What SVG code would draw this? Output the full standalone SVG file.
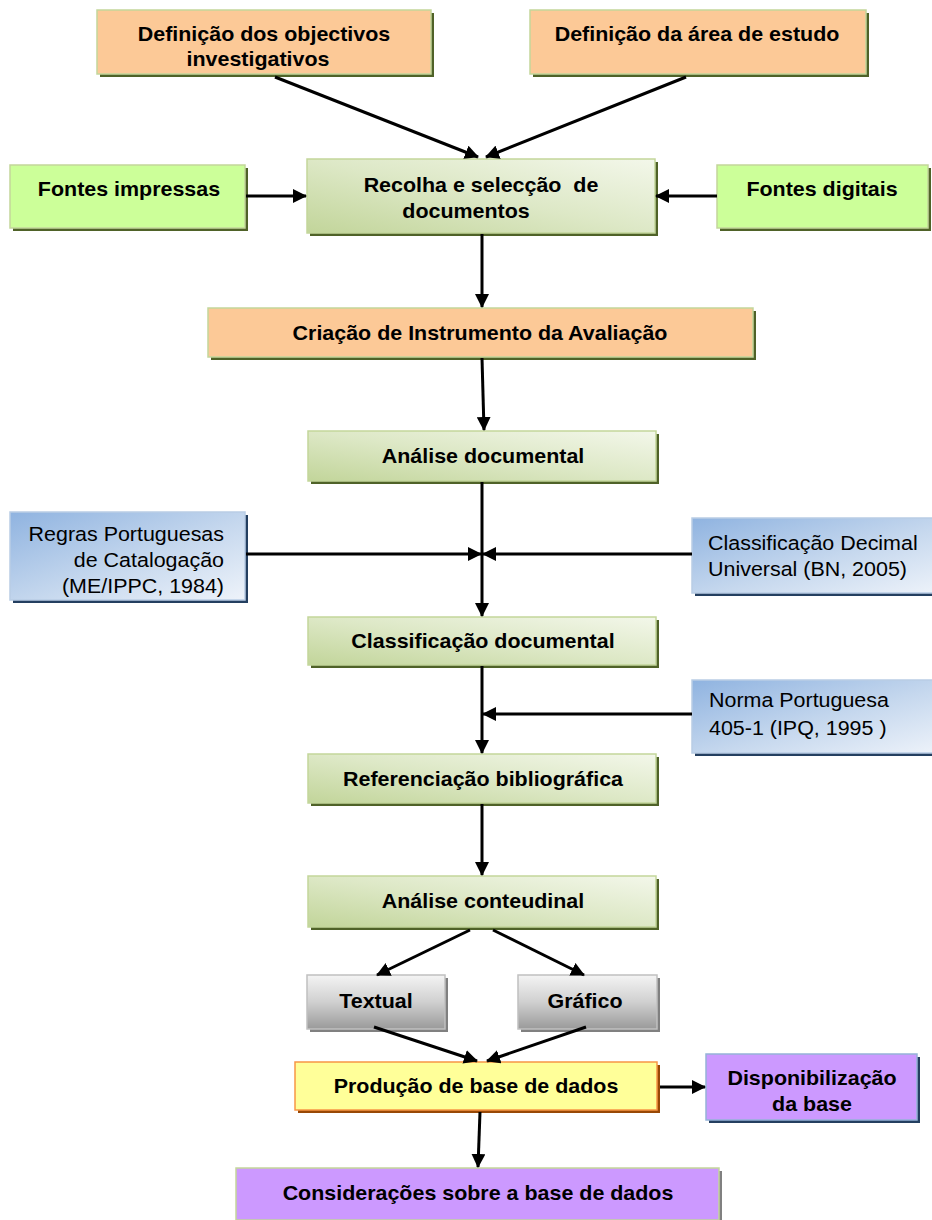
<svg xmlns="http://www.w3.org/2000/svg" width="932" height="1220" viewBox="0 0 932 1220">
<defs>
<linearGradient id="gGreen" x1="0" y1="1" x2="1" y2="0">
<stop offset="0" stop-color="#c2d59a"/><stop offset="0.5" stop-color="#dde8c6"/><stop offset="1" stop-color="#f3f7ea"/>
</linearGradient>
<linearGradient id="gBlue" x1="0" y1="0" x2="1" y2="1">
<stop offset="0" stop-color="#8fb3e0"/><stop offset="0.55" stop-color="#c6d8ee"/><stop offset="1" stop-color="#eef3fa"/>
</linearGradient>
<linearGradient id="gGray" x1="0" y1="0" x2="0" y2="1">
<stop offset="0" stop-color="#f4f4f4"/><stop offset="0.5" stop-color="#d0d0d0"/><stop offset="1" stop-color="#9a9a9a"/>
</linearGradient>
<marker id="ah" markerUnits="userSpaceOnUse" markerWidth="14" markerHeight="14" refX="13" refY="7" orient="auto">
<path d="M0,0 L14,7 L0,14 z" fill="#000"/>
</marker>
</defs>
<style>
.b{font-family:"Liberation Sans",Arial,sans-serif;font-weight:bold;font-size:19.5px;text-anchor:middle;fill:#000;white-space:pre}
.r{font-family:"Liberation Sans",Arial,sans-serif;font-size:19.5px;fill:#000}
.sh-olive{fill:#4f6228}
.sh-blue{fill:#243f60}
.sh-gray{fill:#808080}
.sh-brown{fill:#984806}
.peach{fill:#fcc997;stroke:#c3d69b;stroke-width:1.5}
.lime{fill:#ccff99;stroke:#c3d69b;stroke-width:1.5}
.green{fill:url(#gGreen);stroke:#c3d69b;stroke-width:1.5}
.blue{fill:url(#gBlue);stroke:#b9cde5;stroke-width:1.5}
.gray{fill:url(#gGray);stroke:#c0c0c0;stroke-width:1.5}
.yellow{fill:#ffff99;stroke:#f79646;stroke-width:1.5}
.purple{fill:#cc99ff;stroke:#95b3d7;stroke-width:1.5}
.purple2{fill:#cc99ff;stroke:#c3d69b;stroke-width:1.5}
.c line{stroke:#000;stroke-width:3;marker-end:url(#ah)}
</style>

<g id="n-objectivos">
<rect class="sh-olive" x="100" y="13" width="334" height="64"/>
<rect class="peach" x="97" y="10" width="334" height="64"/>
<text class="b" transform="translate(264 41) scale(1.1 1)">Definição dos objectivos</text>
<text class="b" transform="translate(258 66) scale(1.1 1)">investigativos</text>
</g>
<g id="n-area">
<rect class="sh-olive" x="533" y="13" width="336" height="64"/>
<rect class="peach" x="530" y="10" width="336" height="64"/>
<text class="b" transform="translate(697 41) scale(1.1 1)">Definição da área de estudo</text>
</g>
<g id="n-impressas">
<rect class="sh-olive" x="13" y="168" width="235" height="63"/>
<rect class="lime" x="10" y="165" width="235" height="63"/>
<text class="b" transform="translate(129 196) scale(1.1 1)">Fontes impressas</text>
</g>
<g id="n-recolha">
<rect class="sh-olive" x="310" y="162" width="348" height="74"/>
<rect class="green" x="307" y="159" width="348" height="74"/>
<text class="b" xml:space="preserve" transform="translate(481 192) scale(1.1 1)">Recolha e selecção  de</text>
<text class="b" transform="translate(466 218) scale(1.1 1)">documentos</text>
</g>
<g id="n-digitais">
<rect class="sh-olive" x="720" y="168" width="211" height="63"/>
<rect class="lime" x="717" y="165" width="211" height="63"/>
<text class="b" transform="translate(822 196) scale(1.1 1)">Fontes digitais</text>
</g>
<g id="n-criacao">
<rect class="sh-olive" x="211" y="311" width="545" height="49"/>
<rect class="peach" x="208" y="308" width="545" height="49"/>
<text class="b" transform="translate(480 340) scale(1.1 1)">Criação de Instrumento da Avaliação</text>
</g>
<g id="n-analise-doc">
<rect class="sh-olive" x="311" y="434" width="348" height="50"/>
<rect class="green" x="308" y="431" width="348" height="50"/>
<text class="b" transform="translate(483 463) scale(1.1 1)">Análise documental</text>
</g>
<g id="n-regras">
<rect class="sh-blue" x="13" y="515" width="235" height="88"/>
<rect class="blue" x="10" y="512" width="235" height="88"/>
<text class="r" text-anchor="end" transform="translate(224 541) scale(1.1 1)">Regras Portuguesas</text>
<text class="r" text-anchor="end" transform="translate(224 567) scale(1.1 1)">de Catalogação</text>
<text class="r" text-anchor="end" transform="translate(224 593) scale(1.1 1)">(ME/IPPC, 1984)</text>
</g>
<g id="n-cdu">
<rect class="sh-blue" x="695" y="521" width="250" height="75"/>
<rect class="blue" x="692" y="518" width="250" height="75"/>
<text class="r" transform="translate(708 550) scale(1.1 1)">Classificação Decimal</text>
<text class="r" transform="translate(708 576) scale(1.1 1)">Universal (BN, 2005)</text>
</g>
<g id="n-classificacao">
<rect class="sh-olive" x="311" y="620" width="348" height="48"/>
<rect class="green" x="308" y="617" width="348" height="48"/>
<text class="b" transform="translate(483 648) scale(1.1 1)">Classificação documental</text>
</g>
<g id="n-norma">
<rect class="sh-blue" x="695" y="683" width="250" height="73"/>
<rect class="blue" x="692" y="680" width="250" height="73"/>
<text class="r" transform="translate(709 707) scale(1.1 1)">Norma Portuguesa</text>
<text class="r" transform="translate(709 735) scale(1.1 1)">405-1 (IPQ, 1995 )</text>
</g>
<g id="n-referenciacao">
<rect class="sh-olive" x="311" y="757" width="348" height="49"/>
<rect class="green" x="308" y="754" width="348" height="49"/>
<text class="b" transform="translate(483 786) scale(1.1 1)">Referenciação bibliográfica</text>
</g>
<g id="n-analise-cont">
<rect class="sh-olive" x="311" y="879" width="348" height="51"/>
<rect class="green" x="308" y="876" width="348" height="51"/>
<text class="b" transform="translate(483 908) scale(1.1 1)">Análise conteudinal</text>
</g>
<g id="n-textual">
<rect class="sh-gray" x="310" y="978" width="138" height="54"/>
<rect class="gray" x="307" y="975" width="138" height="54"/>
<text class="b" transform="translate(376 1008) scale(1.1 1)">Textual</text>
</g>
<g id="n-grafico">
<rect class="sh-gray" x="521" y="978" width="139" height="54"/>
<rect class="gray" x="518" y="975" width="139" height="54"/>
<text class="b" transform="translate(585 1008) scale(1.1 1)">Gráfico</text>
</g>
<g id="n-producao">
<rect class="sh-brown" x="298" y="1065" width="362" height="48"/>
<rect class="yellow" x="295" y="1062" width="362" height="48"/>
<text class="b" transform="translate(476 1093) scale(1.1 1)">Produção de base de dados</text>
</g>
<g id="n-disponibilizacao">
<rect class="sh-blue" x="709" y="1057" width="211" height="66"/>
<rect class="purple" x="706" y="1054" width="211" height="66"/>
<text class="b" transform="translate(812 1085) scale(1.1 1)">Disponibilização</text>
<text class="b" transform="translate(812 1111) scale(1.1 1)">da base</text>
</g>
<g id="n-consideracoes">
<rect class="sh-gray" x="239" y="1171" width="483" height="52"/>
<rect class="purple2" x="236" y="1168" width="483" height="52"/>
<text class="b" transform="translate(478 1200) scale(1.1 1)">Considerações sobre a base de dados</text>
</g>

<g id="connectors" class="c">
<line x1="275" y1="77" x2="478" y2="157"/>
<line x1="686" y1="77" x2="486" y2="157"/>
<line x1="246" y1="196" x2="306" y2="196"/>
<line x1="717" y1="196" x2="656" y2="196"/>
<line x1="482" y1="234" x2="482" y2="307"/>
<line x1="482" y1="358" x2="484" y2="430"/>
<line x1="482" y1="482" x2="482" y2="616"/>
<line x1="246" y1="554" x2="481" y2="554"/>
<line x1="692" y1="554" x2="483" y2="554"/>
<line x1="482" y1="666" x2="482" y2="753"/>
<line x1="692" y1="714" x2="483" y2="714"/>
<line x1="482" y1="804" x2="482" y2="875"/>
<line x1="470" y1="930" x2="377" y2="975"/>
<line x1="493" y1="930" x2="584" y2="975"/>
<line x1="374" y1="1027" x2="477" y2="1061"/>
<line x1="586" y1="1027" x2="487" y2="1061"/>
<line x1="660" y1="1087" x2="705" y2="1087"/>
<line x1="480" y1="1112" x2="478" y2="1167"/>
</g>
</svg>
